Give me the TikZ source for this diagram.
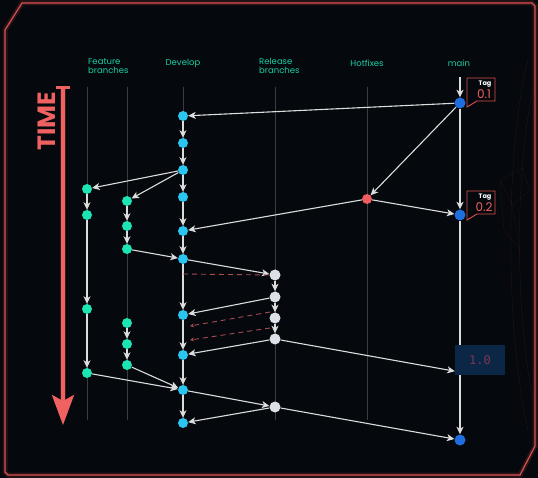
\documentclass[tikz,border=0pt]{standalone}
\usepackage{fontspec}
\setmainfont{Poppins}
\newfontfamily\codefont{DejaVu Sans Mono}
\usepackage{xcolor}
\usetikzlibrary{arrows.meta,positioning,shapes.geometric}
\definecolor{bgclr}{HTML}{05080C}
\definecolor{frameclr}{HTML}{D9504F}
\definecolor{laneclr}{HTML}{3A3E44}
\definecolor{flowclr}{HTML}{DCDCDC}
\definecolor{devclr}{HTML}{2BC6F0}
\definecolor{featclr}{HTML}{1CE4B3}
\definecolor{relclr}{HTML}{DDE0E7}
\definecolor{hotclr}{HTML}{EE5E5E}
\definecolor{mainclr}{HTML}{1F6EE0}
\definecolor{labelclr}{HTML}{19CFA6}
\definecolor{timeclr}{HTML}{F06262}
\definecolor{boxclr}{HTML}{0C2646}
\definecolor{boxtext}{HTML}{7C3454}
\definecolor{dashclr}{HTML}{A84C52}

\begin{document}
\begin{tikzpicture}[
    x=1pt, y=-1pt,
    lane/.style={draw=laneclr, line width=0.8pt},
    commit/.style={circle, inner sep=0, minimum size=10pt},
    devnode/.style={commit, fill=devclr},
    featnode/.style={commit, fill=featclr},
    relnode/.style={commit, fill=relclr, minimum size=11pt},
    hotnode/.style={commit, fill=hotclr},
    mainnode/.style={commit, fill=mainclr, minimum size=11pt},
    flow/.style={draw=flowclr, line width=1.1pt, -{Stealth[length=7.5pt, width=7pt, inset=2pt]}},
    backport/.style={draw=dashclr, line width=0.9pt, dash pattern=on 5pt off 4pt, -{Stealth[length=4pt, width=4pt]}},
    heading/.style={text=labelclr, font=\fontsize{8.5}{9.5}\selectfont, align=left, inner sep=0},
    tagbox/.style={draw=frameclr, line width=0.9pt, fill=bgclr},
    frame/.style={draw=frameclr, line width=1.2pt}]

\fill[bgclr] (0,0) rectangle (538,478);
\useasboundingbox (0,0) rectangle (538,478);

\path[frame, line width=5pt, opacity=0.18] (22,3) -- (532,3) -- (535,6) -- (535,446) -- (520,475) -- (8,475) -- (5,472) -- (5,30) -- cycle;
\path[frame] (22,3) -- (532,3) -- (535,6) -- (535,446) -- (520,475) -- (8,475) -- (5,472) -- (5,30) -- cycle;

\draw[frameclr, opacity=0.15, line width=0.4pt] (528,60) .. controls (505,150) and (505,330) .. (528,430);
\draw[frameclr, opacity=0.15, line width=0.4pt] (533,90) .. controls (515,170) and (515,310) .. (533,400);
\draw[frameclr, opacity=0.12, line width=0.4pt] (500,180) -- (522,168) -- (530,190) -- (512,205) -- cycle (500,180) -- (504,230) -- (520,250) -- (512,205);

\node[heading, anchor=north west] (hfeat) at (88,58) {Feature\\branches};
\node[heading] (hdev) at (183,63) {Develop};
\node[heading, anchor=north west] (hrel) at (259,58) {Release\\branches};
\node[heading] (hhot) at (367,63) {Hotfixes};
\node[heading] (hmain) at (459,63) {main};

\draw[timeclr, line width=6pt, opacity=0.2] (63,87) -- (63,405);
\draw[timeclr, line width=3.5pt, -{Stealth[length=30pt, width=22pt, inset=6pt]}] (63,87) -- (63,425);
\draw[timeclr, line width=3pt] (56,88) -- (70,88);
\node[rotate=90, text=timeclr, font=\fontsize{25}{25}\selectfont\bfseries] (time) at (47,121) {TIME};

\foreach \x in {87,127,183,275,367}
  \draw[lane] (\x,87) -- (\x,420);

\foreach \n/\y in {1/116,2/143,3/170,4/197,5/231,6/259,7/315,8/355,9/390,10/423}
  \node[devnode] (d\n) at (183,\y) {};
\foreach \n/\y in {1/189,2/215,3/309,4/373}
  \node[featnode] (f\n) at (87,\y) {};
\foreach \n/\y in {1/201,2/226,3/249,4/323,5/344,6/365}
  \node[featnode] (g\n) at (127,\y) {};
\foreach \n/\y in {1/275,2/297,3/318,4/339,5/407}
  \node[relnode] (r\n) at (275,\y) {};
\node[hotnode] (h1) at (367,199) {};
\node[mainnode] (m1) at (460,103) {};
\node[mainnode] (m2) at (460,215) {};
\node[mainnode] (m3) at (460,440) {};
\coordinate (m0) at (460,77);

\foreach \a/\b in {1/2,2/3,3/4,4/5,5/6,6/7,7/8,8/9,9/10}
  \draw[flow] (d\a) -- (d\b);
\foreach \a/\b in {1/2,2/3,3/4}
  \draw[flow] (f\a) -- (f\b);
\foreach \a/\b in {1/2,2/3,4/5,5/6}
  \draw[flow] (g\a) -- (g\b);
\foreach \a/\b in {1/2,2/3,3/4}
  \draw[flow] (r\a) -- (r\b);

\draw[flow] (m0) -- (m1);
\draw[flow] (m1) -- (m2);
\draw[flow] (m2) -- (m3);

\node[fill=boxclr, text=boxtext, font=\codefont\fontsize{12}{12}\selectfont, minimum width=50pt, minimum height=30pt, inner sep=0] (v10) at (480,360) {1.0};

\draw[flow] (m1) -- (d1);
\draw[flow] (m1) -- (h1);
\draw[flow] (h1) -- (m2);
\draw[flow] (h1) -- (d5);
\draw[flow] (d3) -- (f1);
\draw[flow] (d3) -- (g1);
\draw[flow] (g3) -- (d6);
\draw[flow] (d6) -- (r1);
\draw[flow] (r2) -- (d7);
\draw[flow] (r4) -- (d8);
\draw[flow] (r4) -- ([yshift=4pt]v10.south west);
\draw[flow] (f4) -- (d9);
\draw[flow] (g6) -- (d9);
\draw[flow] (d9) -- (r5);
\draw[flow] (r5) -- (d10);
\draw[flow] (r5) -- (m3);

\coordinate (c0) at (183,274);
\coordinate (c1) at (270,312);
\coordinate (c2) at (190,326);
\coordinate (c3) at (270,328);
\coordinate (c4) at (190,340);
\draw[draw=dashclr, line width=0.9pt, dash pattern=on 5pt off 4pt] (c0) -- (r1.west);
\draw[backport] (c1) -- (c2);
\draw[backport] (c3) -- (c4);

\path[tagbox] (467,78) -- (495,78) -- (495,101) -- (477,101) -- (467,107) -- cycle;
\node[text=white, font=\fontsize{6.5}{7}\selectfont\bfseries, inner sep=0] (t1a) at (485,84) {Tag};
\node[text=timeclr, font=\fontsize{12}{12}\selectfont, inner sep=0] (t1b) at (484,94) {0.1};
\path[tagbox] (467,191) -- (495,191) -- (495,214) -- (477,214) -- (467,220) -- cycle;
\node[text=white, font=\fontsize{6.5}{7}\selectfont\bfseries, inner sep=0] (t2a) at (485,197) {Tag};
\node[text=timeclr, font=\fontsize{12}{12}\selectfont, inner sep=0] (t2b) at (484,207) {0.2};

\end{tikzpicture}
\end{document}
